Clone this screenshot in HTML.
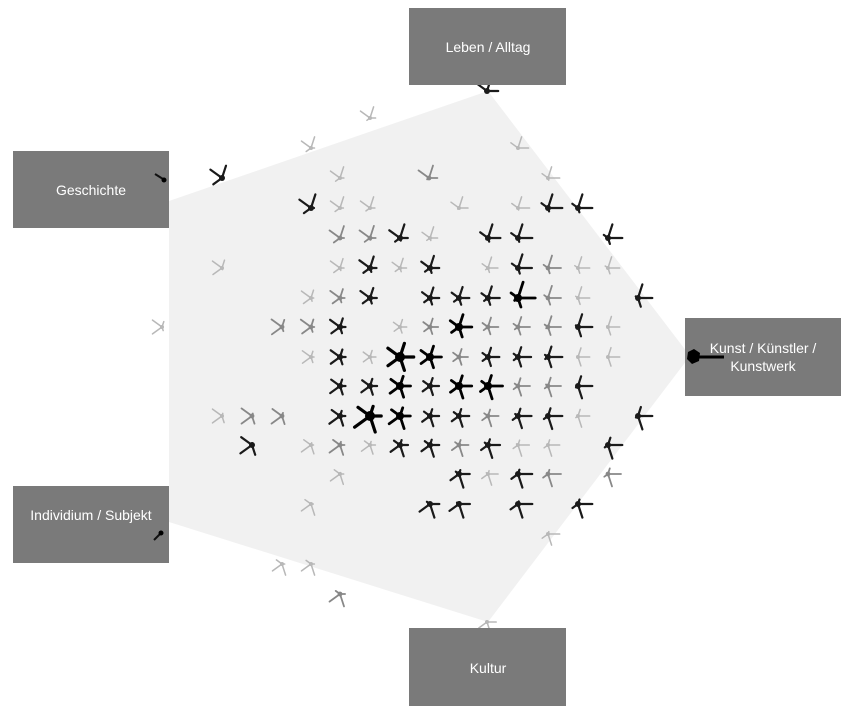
<!DOCTYPE html>
<html><head><meta charset="utf-8"><style>
html,body{margin:0;padding:0;background:#fff;width:846px;height:720px;overflow:hidden}
svg{display:block}
.b{fill:#7a7a7a}
text{font-family:"Liberation Sans",sans-serif;font-size:14px;fill:#fff;text-anchor:middle}
</style></head><body>
<svg id="s" width="846" height="720" viewBox="0 0 846 720" xmlns="http://www.w3.org/2000/svg">
<polygon points="488,91 169,201 169,522 488,622 690,356" fill="#f1f1f1"/>
<g id="g"></g>
<rect class="b" x="409" y="8" width="157" height="77"/>
<text x="488" y="52">Leben / Alltag</text>
<rect class="b" x="13" y="151" width="156" height="77"/>
<text x="91" y="195">Geschichte</text>
<rect class="b" x="685" y="318" width="156" height="78"/>
<text x="763" y="353">Kunst / Künstler /</text>
<text x="763" y="371">Kunstwerk</text>
<rect class="b" x="13" y="486" width="156" height="77"/>
<text x="91" y="520">Individium / Subjekt</text>
<rect class="b" x="409" y="628" width="157" height="78"/>
<text x="488" y="673">Kultur</text>
<g id="top"></g>
</svg>
<script>
var G=[
[370,118,1],[311,148,1],[518,148,1],
[222,178,3],[340,178,1],[429,178,2],[548,178,1],
[311,208,3],[340,208,1],[370,208,1],[459,208,1],[518,208,1],[548,208,3],[578,208,3],
[340,238,2],[370,238,2],[400,238,3],[430,238,1],[488,238,3],[518,238,3],[608,238,3],
[222,268,1],[340,268,1],[370,268,3],[400,268,1],[430,268,3],[488,268,1],[518,268,3],[548,268,2],[578,268,1],[608,268,1],
[311,298,1],[340,298,2],[370,298,3],[430,298,3],[459,298,3],[488,298,3],[518,298,4],[548,298,2],[578,298,1],[638,298,3],
[162,327,1],[282,327,2],[311,327,2],[340,327,3],[400,327,1],[430,327,2],[459,327,4],[488,327,2],[518,327,2],[548,327,2],[578,327,3],[608,327,1],
[311,357,1],[340,357,3],[370,357,1],[400,357,5],[430,357,4],[459,357,2],[488,357,3],[518,357,3],[548,357,3],[578,357,1],[608,357,1],
[340,386,3],[370,386,3],[400,386,4],[430,386,3],[459,386,4],[488,386,4],[518,386,2],[548,386,2],[578,386,3],
[222,416,1],[252,416,2],[282,416,2],[340,416,3],[370,416,5],[400,416,4],[430,416,3],[459,416,3],[488,416,2],[518,416,3],[548,416,3],[578,416,1],[638,416,3],
[252,445,3],[311,445,1],[340,445,2],[370,445,1],[400,445,3],[430,445,3],[459,445,2],[488,445,3],[518,445,1],[548,445,1],[608,445,3],
[340,474,1],[459,474,3],[488,474,1],[518,474,3],[548,474,2],[608,474,2],
[311,504,1],[430,504,3],[459,504,3],[518,504,3],[578,504,3],
[548,534,1],[282,564,1],[311,564,1],[340,594,2],
[487,91,3],[487,622,1]
];
var LV={1:["#b8b8b8",9,1.5,2],2:["#888",10,1.8,2.4],3:["#1a1a1a",11,2.2,3],4:["#000",14,2.8,4],5:["#000",18,3.2,5]};
var ang=[0,-72,-144,144,72];
var cx=420,cy=360,ns="http://www.w3.org/2000/svg",g=document.getElementById("g");
function el(n,a,p){var e=document.createElementNS(ns,n);for(var k in a)e.setAttribute(k,a[k]);(p||g).appendChild(e);return e;}
G.forEach(function(q){var x=q[0],y=q[1],L=LV[q[2]];var dx=x-cx,dy=y-cy,d=Math.hypot(dx,dy)||1;var f=Math.min(1,Math.pow(d/170,1.5));
 for(var i=0;i<5;i++){var a=ang[i]*Math.PI/180,c=(Math.cos(a)*dx+Math.sin(a)*dy)/d;
  var w=0.8+0.9*c*f; if(w<0.15)continue; w=Math.min(w,1.3);
  var r=L[1]*w;el("line",{x1:x,y1:y,x2:(x+Math.cos(a)*r).toFixed(1),y2:(y+Math.sin(a)*r).toFixed(1),stroke:L[0],"stroke-width":L[2],"stroke-linecap":"round"});}
 el("circle",{cx:x,cy:y,r:L[3],fill:L[0]});});
var t=document.getElementById("top");
el("line",{x1:163,y1:179,x2:155,y2:174,stroke:"#111","stroke-width":2},t);el("circle",{cx:164,cy:180,r:2.5,fill:"#000"},t);
el("line",{x1:160,y1:534,x2:154,y2:540,stroke:"#111","stroke-width":2},t);el("circle",{cx:161,cy:533,r:2.5,fill:"#000"},t);
el("polygon",{points:"688,352 694,349 700,353 699,361 692,364 687,359",fill:"#000"},t);
el("line",{x1:698,y1:357,x2:724,y2:357,stroke:"#000","stroke-width":3},t);
</script>
</body></html>
